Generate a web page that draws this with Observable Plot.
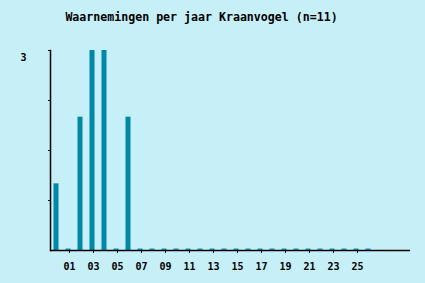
<!DOCTYPE html>
<html><head><meta charset="utf-8">
<script src="https://cdn.jsdelivr.net/npm/d3@7"></script>
<script src="https://cdn.jsdelivr.net/npm/@observablehq/plot@0.6"></script>
<style>
html,body{margin:0;padding:0;background:#c6eff8;}
</style>
</head><body><div id="chart"></div>
<script>
const title = "Waarnemingen per jaar Kraanvogel (n=11)";
const years = ["00","01","02","03","04","05","06","07","08","09","10","11","12","13","14","15","16","17","18","19","20","21","22","23","24","25","26"];
const counts = [1,0,2,3,3,0,2,0,0,0,0,0,0,0,0,0,0,0,0,0,0,0,0,0,0,0,0];
const domainYears = [...years, "27","28","29"];
const tickYears = ["01","03","05","07","09","11","13","15","17","19","21","23","25"];
const yTicks = [0.75,1.5,2.25,3];
const yLabels = [3];

const data = years.map((y,i)=>({year:y, count:counts[i]}));
const font = "'DejaVu Sans Mono', monospace";

const chart = Plot.plot({
  width: 425, height: 283,
  marginLeft: 50, marginRight: 15, marginTop: 50, marginBottom: 33,
  style: {background: "#c6eff8", fontFamily: font, fontWeight: "bold", fontSize: "10px", color: "#000"},
  x: {type: "band", domain: domainYears, padding: 0, axis: null, label: null},
  y: {domain: [0,3], axis: null, label: null},
  marks: [
    Plot.barY(data.filter(d=>d.count>0), {x:"year", y:"count", fill:"#0088a8", insetLeft:3.5, insetRight:3.5}),
    Plot.tickY(data.filter(d=>d.count===0), {x:"year", y:()=>0, stroke:"#1094b4", strokeWidth:2, dy:-1, insetLeft:3.5, insetRight:3.5}),
    Plot.axisX({ticks: tickYears, tickSize: 3, tickPadding: 9, dx: 1, fontSize: 10, fontWeight:"bold", stroke:"#000", label: null}),
    Plot.axisY({ticks: yTicks, tickSize: 2, tickFormat: () => "", anchor:"left", label: null}),
    Plot.axisY({ticks: yLabels, tickSize: 0, tickPadding: 24, dy: 7, tickFormat: d3.format("d"), fontSize: 10, fontWeight:"bold", anchor:"left", label: null}),
    Plot.ruleY([0], {stroke:"#000", strokeWidth:1.5}),
    Plot.frame({anchor:"left", stroke:"#000", strokeWidth:1.5}),
    Plot.text([title], {text: d=>d, frameAnchor:"top", dy:-38, dx:-29, fontSize:11.6, fontWeight:"bold", fontFamily: font, fill:"#000"})
  ]
});
document.getElementById("chart").appendChild(chart);
</script>
</body></html>
